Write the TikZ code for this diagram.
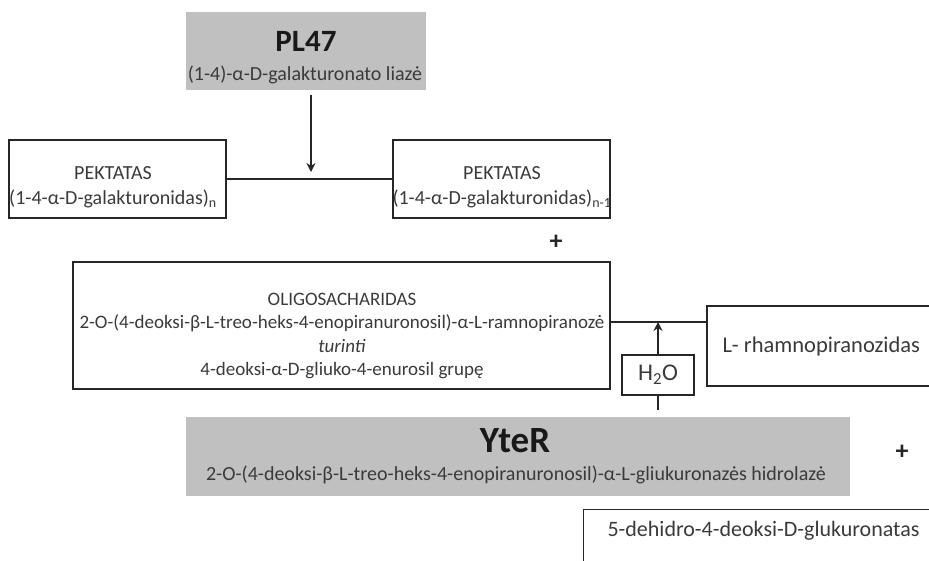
\documentclass[tikz,border=0pt]{standalone}
\usepackage{fontspec}
\setmainfont{Carlito}
\usetikzlibrary{arrows.meta, positioning, calc}
\definecolor{enzgray}{HTML}{C0C0C0}
\definecolor{txtgray}{HTML}{3A3A3A}

\begin{document}
\begin{tikzpicture}[x=1pt, y=-1pt, >={Stealth[length=9pt, width=9pt, inset=3pt]},
  text=txtgray, font=\fontsize{20}{25}\selectfont,
  enzyme/.style={fill=enzgray, inner sep=0pt},
  product/.style={draw=black!85, line width=1.4pt, inner sep=0pt},
  link/.style={draw=black!85, line width=1.4pt},
  plus/.style={font=\fontsize{26}{26}\selectfont\bfseries, text=black!85}]
  \useasboundingbox (0,0) rectangle (929,560);
  \clip (0,0) rectangle (929,560);

  % PL47 lyase
  \node[enzyme, minimum width=240pt, minimum height=78pt] (pl47) at (306,51) {};
  \node[font=\fontsize{31}{33}\selectfont\bfseries, text=black!90] (pl47name) at (306,41) {PL47};
  \node (pl47desc) at (305,75) {(1-4)-α-D-galakturonato liazė};

  % Pectate in / out
  \node[product, minimum width=217pt, minimum height=78pt] (pekL) at (117.5,179) {};
  \node[align=center] (pekLtxt) at (113,187)
    {PEKTATAS\\(1-4-α-D-galakturonidas)\textsubscript{n}};
  \node[product, minimum width=217pt, minimum height=78pt] (pekR) at (501.5,179) {};
  \node[align=center] (pekRtxt) at (502,187)
    {PEKTATAS\\(1-4-α-D-galakturonidas)\textsubscript{n-1}};
  \coordinate (cleave) at (311,179);
  \draw[link] (pekL) -- (pekR);
  \draw[link, ->, shorten <=5pt, shorten >=7pt] (pl47.south -| cleave) -- (cleave);
  \node[plus] (plus1) at (556,242) {+};

  % Oligosaccharide
  \node[product, minimum width=537pt, minimum height=127pt] (oligo) at (341.5,325.5) {};
  \node[align=center, font=\fontsize{19}{23.5}\selectfont] (oligotxt) at (342,336)
    {OLIGOSACHARIDAS\\
     2-O-(4-deoksi-β-L-treo-heks-4-enopiranuronosil)-α-L-ramnopiranozė\\
     \textit{turinti}\\
     4-deoksi-α-D-gliuko-4-enurosil grupę};
  \node[product, minimum width=260pt, minimum height=80pt] (rham) at (837,346) {};
  \node[anchor=west, font=\fontsize{22.5}{24}\selectfont] (rhamtxt) at (719,346)
    {L- rhamnopiranozidas};
  \coordinate (join) at (658,322);
  \draw[link] (oligo.east |- join) -- (rham.west |- join);

  % Water
  \node[product, minimum width=72pt, minimum height=40pt,
        font=\fontsize{24}{26}\selectfont] (h2o) at (658,375) {H\textsubscript{2}O};
  \draw[link, ->] (h2o) -- (join);

  % YteR hydrolase
  \node[enzyme, minimum width=664pt, minimum height=79pt] (yter) at (518,456.5) {};
  \node[font=\fontsize{37}{39}\selectfont\bfseries, text=black!90] (ytername) at (515,441) {YteR};
  \node (yterdesc) at (516,475)
    {2-O-(4-deoksi-β-L-treo-heks-4-enopiranuronosil)-α-L-gliukuronazės hidrolazė};
  \draw[link, shorten >=7pt] (h2o.south) -- (h2o.south |- yter.north);
  \node[plus] (plus2) at (902,452) {+};

  % Product
  \node[product, anchor=north west, minimum width=380pt, minimum height=90pt] (dehidro) at (583,509) {};
  \node[anchor=west, font=\fontsize{22}{24}\selectfont] (dehidrotxt) at (604,531)
    {5-dehidro-4-deoksi-D-glukuronatas};
\end{tikzpicture}
\end{document}
